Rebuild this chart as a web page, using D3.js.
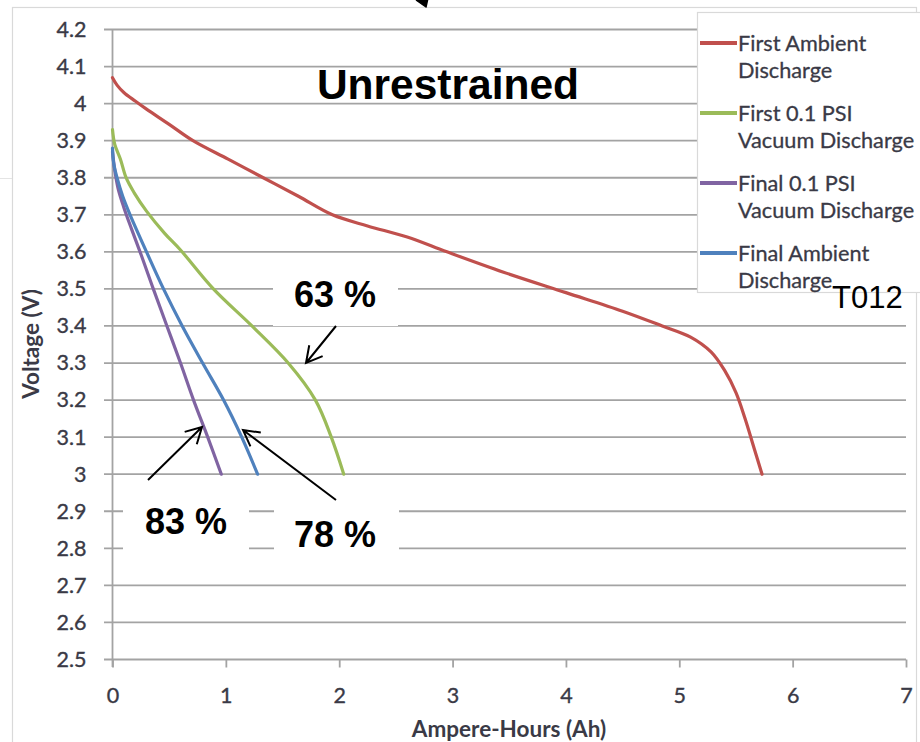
<!DOCTYPE html>
<html>
<head>
<meta charset="utf-8">
<script src="https://cdn.jsdelivr.net/npm/d3@7"></script>
<style>
  body { margin: 0; background: #fff; }
  svg { display: block; }
</style>
</head>
<body>
<svg id="chart" width="920" height="742"></svg>
<script>
// ---- data -------------------------------------------------------------
const xTicks = [0, 1, 2, 3, 4, 5, 6, 7];
const yTicks = [2.5, 2.6, 2.7, 2.8, 2.9, 3.0, 3.1, 3.2, 3.3, 3.4, 3.5, 3.6, 3.7, 3.8, 3.9, 4.0, 4.1, 4.2];

const seriesNames = [
  ["First Ambient", "Discharge"],
  ["First 0.1 PSI", "Vacuum Discharge"],
  ["Final 0.1 PSI", "Vacuum Discharge"],
  ["Final Ambient", "Discharge"]
];
const seriesColors = ["#c0504d", "#9bbb59", "#8064a2", "#4f81bd"];

// [Ampere-hours, Volts]
const firstAmbient = [
  [0, 4.07], [0.04, 4.05], [0.1, 4.03], [0.2, 4.007], [0.3, 3.985], [0.5, 3.944],
  [0.71, 3.90], [1.02, 3.85], [1.33, 3.80], [1.64, 3.75], [1.94, 3.70], [2.25, 3.67],
  [2.6, 3.64], [2.95, 3.60], [3.45, 3.545], [4.0, 3.49], [4.5, 3.44], [4.85, 3.40],
  [5.1, 3.37], [5.28, 3.33], [5.4, 3.28], [5.5, 3.22], [5.58, 3.15], [5.66, 3.07], [5.73, 3.0]
];
const firstVacuum = [
  [0, 3.93], [0.02, 3.89], [0.07, 3.85], [0.12, 3.80], [0.19, 3.76], [0.3, 3.71],
  [0.46, 3.65], [0.6, 3.605], [0.89, 3.50], [1.23, 3.40], [1.55, 3.30],
  [1.79, 3.20], [1.93, 3.10], [2.04, 3.0]
];
const finalVacuum = [
  [0, 3.87], [0.02, 3.82], [0.05, 3.77], [0.1, 3.72], [0.17, 3.66], [0.255, 3.59],
  [0.36, 3.50], [0.48, 3.40], [0.6, 3.30], [0.715, 3.20], [0.84, 3.10], [0.96, 3.0]
];
const finalAmbient = [
  [0, 3.88], [0.01, 3.84], [0.04, 3.80], [0.09, 3.75], [0.155, 3.70], [0.3, 3.60],
  [0.45, 3.50], [0.615, 3.40], [0.795, 3.30], [0.98, 3.20], [1.14, 3.10], [1.28, 3.0]
];
const allSeries = [firstAmbient, firstVacuum, finalVacuum, finalAmbient];

const percentLabels = ["63 %", "83 %", "78 %"];

// ---- layout -----------------------------------------------------------
const svg = d3.select("#chart");
const x = d3.scaleLinear().domain([0, 7]).range([112.5, 906]);
const y = d3.scaleLinear().domain([2.5, 4.2]).range([659.5, 29.5]);

const tickFont = "Lato, 'Open Sans', sans-serif";
const textColor = "#3a3a46";

// chart frame
svg.append("rect")
  .attr("x", 12.5).attr("y", 7.5).attr("width", 904).attr("height", 760)
  .attr("fill", "#fff").attr("stroke", "#d9d9d9").attr("stroke-width", 1.2);
svg.append("line")
  .attr("x1", 0).attr("x2", 12).attr("y1", 178.5).attr("y2", 178.5)
  .attr("stroke", "#e4e4e4").attr("stroke-width", 1);

// horizontal gridlines
svg.append("g")
  .selectAll("line")
  .data(yTicks)
  .join("line")
  .attr("x1", 104).attr("x2", x(7))
  .attr("y1", d => y(d)).attr("y2", d => y(d))
  .attr("stroke", "#a3a3a3").attr("stroke-width", 1.8);

// y axis
const yAxis = svg.append("g")
  .attr("transform", `translate(${x(0)},0)`)
  .call(d3.axisLeft(y).tickValues(yTicks).tickSize(0).tickPadding(26)
    .tickFormat(d => String(+d.toFixed(1))));
yAxis.select(".domain").remove();
yAxis.append("line")
  .attr("x1", 0).attr("x2", 0).attr("y1", y(4.2)).attr("y2", 667)
  .attr("stroke", "#a3a3a3").attr("stroke-width", 1.8);
yAxis.selectAll("text")
  .attr("font-family", tickFont).attr("font-size", 21.5)
  .attr("fill", textColor).attr("stroke", textColor).attr("stroke-width", 0.35);

// x axis
const xAxis = svg.append("g")
  .attr("transform", `translate(0,${y(2.5)})`)
  .call(d3.axisBottom(x).tickValues(xTicks).tickSize(8).tickPadding(20)
    .tickFormat(d3.format("d")));
xAxis.select(".domain").remove();
xAxis.selectAll("line").attr("stroke", "#a3a3a3").attr("stroke-width", 1.8);
xAxis.selectAll("text")
  .attr("font-family", tickFont).attr("font-size", 21.5)
  .attr("fill", textColor).attr("stroke", textColor).attr("stroke-width", 0.35);

// axis titles
svg.append("text")
  .attr("x", 509).attr("y", 737)
  .attr("text-anchor", "middle")
  .attr("font-family", tickFont).attr("font-weight", "bold").attr("font-size", 22.5)
  .attr("fill", textColor)
  .text("Ampere-Hours (Ah)");
svg.append("text")
  .attr("transform", "translate(39,344) rotate(-90)")
  .attr("text-anchor", "middle")
  .attr("font-family", tickFont).attr("font-weight", "bold").attr("font-size", 22.5)
  .attr("fill", textColor)
  .text("Voltage (V)");

// discharge curves
const line = d3.line()
  .x(d => x(d[0])).y(d => y(d[1]))
  .curve(d3.curveCatmullRom.alpha(0.5));
svg.append("g")
  .selectAll("path")
  .data(allSeries)
  .join("path")
  .attr("d", line)
  .attr("fill", "none")
  .attr("stroke", (d, i) => seriesColors[i])
  .attr("stroke-width", 3.2)
  .attr("stroke-linecap", "round")
  .attr("stroke-linejoin", "round");

// legend
const legend = svg.append("g");
legend.append("rect")
  .attr("x", 697.5).attr("y", 12.5).attr("width", 240).attr("height", 280)
  .attr("fill", "#fff").attr("stroke", "#d9d9d9").attr("stroke-width", 1.2);
const items = legend.selectAll("g.item")
  .data(seriesNames)
  .join("g")
  .attr("class", "item")
  .attr("transform", (d, i) => `translate(0,${43 + i * 70})`);
items.append("line")
  .attr("x1", 700).attr("x2", 737).attr("y1", 0).attr("y2", 0)
  .attr("stroke", (d, i) => seriesColors[i])
  .attr("stroke-width", 4);
items.each(function (d) {
  const t = d3.select(this).append("text")
    .attr("font-family", tickFont).attr("font-size", 21.7)
    .attr("fill", textColor).attr("stroke", textColor).attr("stroke-width", 0.3);
  d.forEach((s, k) => {
    t.append("tspan").attr("x", 738).attr("y", 8 + k * 27).text(s);
  });
});

// title
svg.append("text")
  .attr("x", 448).attr("y", 99)
  .attr("text-anchor", "middle")
  .attr("font-family", "'Liberation Sans', Arial, sans-serif")
  .attr("font-weight", "bold").attr("font-size", 42.5)
  .attr("fill", "#000")
  .text("Unrestrained");

// sample id
svg.append("text")
  .attr("x", 832).attr("y", 308)
  .attr("font-family", "'Liberation Sans', Arial, sans-serif")
  .attr("font-size", 31)
  .attr("fill", "#000")
  .text("T012");

// capacity-retention callouts
const callouts = [
  { label: percentLabels[0], box: [273, 270, 125, 56], tx: 335, ty: 307,
    from: [336, 326], to: [306, 363] },
  { label: percentLabels[1], box: [123, 498, 126, 54], tx: 186, ty: 534,
    from: [148, 480], to: [202, 427] },
  { label: percentLabels[2], box: [274, 498, 125, 54], tx: 335, ty: 547,
    from: [336, 500], to: [243, 430] }
];
const cg = svg.append("g");
callouts.forEach(c => {
  cg.append("rect")
    .attr("x", c.box[0]).attr("y", c.box[1])
    .attr("width", c.box[2]).attr("height", c.box[3])
    .attr("fill", "#fff");
});
callouts.forEach(c => {
  cg.append("text")
    .attr("x", c.tx).attr("y", c.ty)
    .attr("text-anchor", "middle")
    .attr("font-family", "'Liberation Sans', Arial, sans-serif")
    .attr("font-weight", "bold").attr("font-size", 36)
    .attr("fill", "#000")
    .text(c.label);
});

function arrow(g, from, to, head) {
  const ang = Math.atan2(to[1] - from[1], to[0] - from[0]);
  const a1 = ang + Math.PI - 0.5, a2 = ang + Math.PI + 0.5;
  const p = d3.path();
  p.moveTo(from[0], from[1]); p.lineTo(to[0], to[1]);
  p.moveTo(to[0] + head * Math.cos(a1), to[1] + head * Math.sin(a1));
  p.lineTo(to[0], to[1]);
  p.lineTo(to[0] + head * Math.cos(a2), to[1] + head * Math.sin(a2));
  g.append("path").attr("d", p.toString())
    .attr("fill", "none").attr("stroke", "#000").attr("stroke-width", 2)
    .attr("stroke-linejoin", "miter");
}
callouts.forEach(c => arrow(cg, c.from, c.to, 18));

// arrowhead of a pointer entering from the top edge
svg.append("path")
  .attr("d", d3.line()([[416, 0], [426, 7], [428, -2]]))
  .attr("fill", "#000").attr("stroke", "#000").attr("stroke-width", 1.5)
  .attr("stroke-linejoin", "round");
</script>
</body>
</html>
